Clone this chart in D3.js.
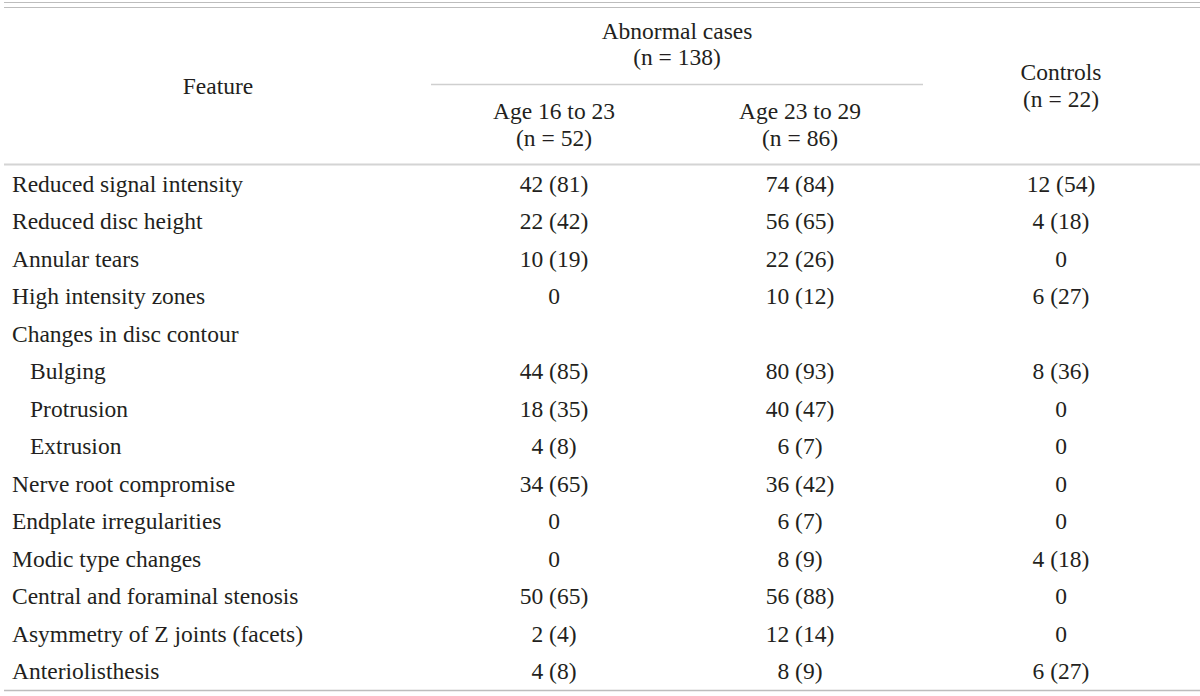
<!DOCTYPE html>
<html><head><meta charset="utf-8">
<script src="https://cdn.jsdelivr.net/npm/d3@7"></script>
<style>
html,body{margin:0;padding:0;background:#fff;}
svg{display:block;}
text{font-family:"Liberation Serif","Times New Roman",serif;font-size:23.5px;fill:#231f20;}
</style></head>
<body>
<svg id="c" width="1200" height="696"></svg>
<script>
const features = ["Reduced signal intensity","Reduced disc height","Annular tears","High intensity zones","Changes in disc contour","Bulging","Protrusion","Extrusion","Nerve root compromise","Endplate irregularities","Modic type changes","Central and foraminal stenosis","Asymmetry of Z joints (facets)","Anteriolisthesis"];
const indented = [false,false,false,false,false,true,true,true,false,false,false,false,false,false];
const age16to23 = ["42 (81)","22 (42)","10 (19)","0","","44 (85)","18 (35)","4 (8)","34 (65)","0","0","50 (65)","2 (4)","4 (8)"];
const age23to29 = ["74 (84)","56 (65)","22 (26)","10 (12)","","80 (93)","40 (47)","6 (7)","36 (42)","6 (7)","8 (9)","56 (88)","12 (14)","8 (9)"];
const controls = ["12 (54)","4 (18)","0","6 (27)","","8 (36)","0","0","0","0","4 (18)","0","0","6 (27)"];
const columns = ["age16","age23","controls"];
const headerFeature = "Feature";
const headerGroup = ["Abnormal cases","(n = 138)"];
const headerAge16 = ["Age 16 to 23","(n = 52)"];
const headerAge23 = ["Age 23 to 29","(n = 86)"];
const headerControls = ["Controls","(n = 22)"];

const svg = d3.select("#c");
const W = 1200;
const x = d3.scaleOrdinal().domain(columns).range([554, 800, 1061]);
const y = d3.scalePoint().domain(d3.range(features.length)).range([184, 671]);

function hline(x1,x2,yy,color,w){
  svg.append("line").attr("x1",x1).attr("x2",x2).attr("y1",yy).attr("y2",yy)
    .attr("stroke",color).attr("stroke-width",w);
}
hline(4,W,2.5,"#bdbdbd",1.2);
hline(4,W,7.5,"#bdbdbd",1.2);
hline(431,923,84.5,"#cfcfcf",1.5);
hline(4,W,164.5,"#d4d4d4",2);
hline(4,W,690.5,"#bdbdbd",1.5);

function ctext(cx,cy,t){
  svg.append("text").attr("x",cx).attr("y",cy).attr("text-anchor","middle")
    .attr("dominant-baseline","central").text(t);
}
ctext(218,86,headerFeature);
ctext(677,31,headerGroup[0]);
ctext(677,57,headerGroup[1]);
ctext(x("age16"),111,headerAge16[0]);
ctext(x("age16"),138,headerAge16[1]);
ctext(x("age23"),111,headerAge23[0]);
ctext(x("age23"),138,headerAge23[1]);
ctext(x("controls"),72,headerControls[0]);
ctext(x("controls"),99,headerControls[1]);

const rows = features.map((f,i)=>({f,i,ind:indented[i],v:[age16to23[i],age23to29[i],controls[i]]}));
const g = svg.append("g");
g.selectAll("text.f").data(rows).join("text").attr("class","f")
  .attr("x",d=>d.ind?30:12).attr("y",d=>y(d.i)).attr("dominant-baseline","central").text(d=>d.f);
rows.forEach(r=>{
  columns.forEach((c,j)=>{
    if(r.v[j]!=="") g.append("text").attr("x",x(c)).attr("y",y(r.i)).attr("text-anchor","middle")
      .attr("dominant-baseline","central").text(r.v[j]);
  });
});
</script>
</body></html>
